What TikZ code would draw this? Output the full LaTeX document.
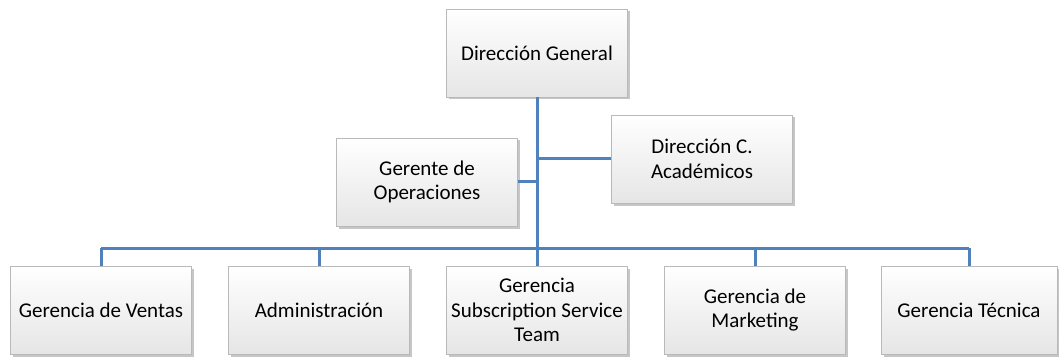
\documentclass[tikz,border=0pt]{standalone}
\usepackage{fontspec}
\setmainfont{Carlito}
\usetikzlibrary{calc}
\usetikzlibrary{positioning}
\usetikzlibrary{shadows}
\definecolor{azulorg}{RGB}{79,129,189}
\tikzstyle{caja} = [rectangle, minimum width=181pt, minimum height=88pt, align=center, draw=gray!55, top color=white, bottom color=gray!20, drop shadow={shadow xshift=2.5pt, shadow yshift=-2.5pt, opacity=0.45}, font=\fontsize{21}{24.5}\selectfont]
\tikzstyle{enlace} = [azulorg, line width=3pt]

\begin{document}
\begin{tikzpicture}[x=1pt,y=-1pt]
\useasboundingbox (0,0) rectangle (1059,358);
\coordinate (DG) at (537,53);
\coordinate (GO) at (427,182);
\coordinate (DA) at (702,159);
\coordinate (bus) at (537,248);

\node [caja] (dg) at (DG) {Dirección General};
\node [caja] (oper) at (GO) {Gerente de\\Operaciones};
\node [caja] (acad) at (DA) {Dirección C.\\Académicos};

\node [caja] (ventas)  at (101,310) {Gerencia de Ventas};
\node [caja] (admin)   at (319,310) {Administración};
\node [caja] (subs)    at (537,310) {Gerencia\\Subscription Service\\Team};
\node [caja] (mkt)     at (755,310) {Gerencia de\\Marketing};
\node [caja, minimum width=176pt] (tecnica) at (969,310) {Gerencia Técnica};

\draw [enlace] (dg.south) -- (bus);
\draw [enlace] (oper.east) -- (oper.east -| bus);
\draw [enlace] (acad.west) -- (acad.west -| bus);
\draw [enlace] (ventas.north |- bus) -- (tecnica.north |- bus);
\foreach \n in {ventas,admin,subs,mkt,tecnica}
  \draw [enlace] (\n.north) -- (\n.north |- bus);

\end{tikzpicture}
\end{document}
